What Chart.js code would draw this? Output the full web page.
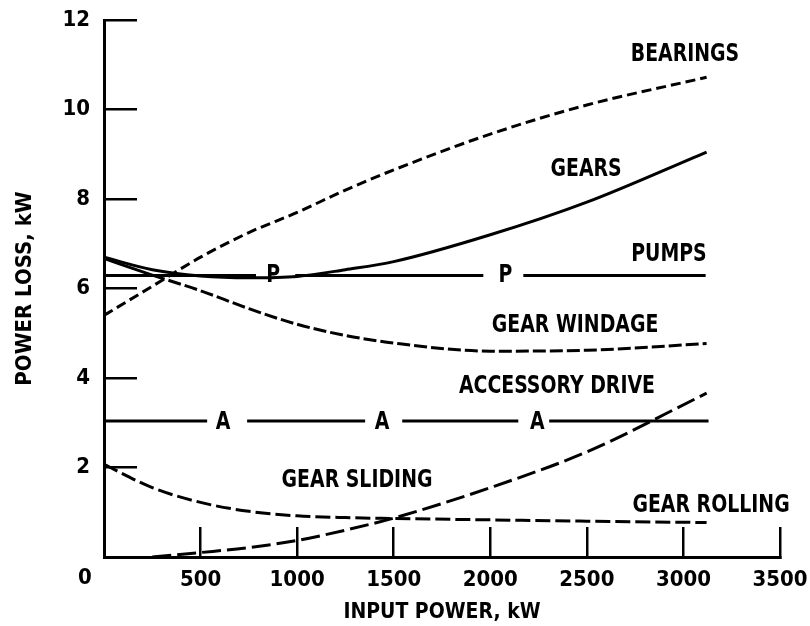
<!DOCTYPE html>
<html>
<head>
<meta charset="utf-8">
<script src="https://cdn.jsdelivr.net/npm/chart.js@4.4.1/dist/chart.umd.min.js"></script>
<style>
  body { margin: 0; background: #fff; }
</style>
</head>
<body>
<canvas id="chart" width="810" height="626"></canvas>
<script>
// input power, kW (common x grid for the curves)
const inputPower = [0, 250, 500, 750, 1000, 1250, 1500, 2000, 2500, 3120];

// power loss, kW
const bearings = [5.4, 6.05, 6.7, 7.25, 7.7, 8.2, 8.65, 9.45, 10.1, 10.72];
const gears    = [6.7, 6.42, 6.28, 6.24, 6.27, 6.42, 6.6, 7.2, 7.93, 9.05];
const windage  = [6.67, 6.3, 5.95, 5.55, 5.2, 4.95, 4.78, 4.6, 4.62, 4.77];
const rolling  = [2.07, 1.55, 1.22, 1.02, 0.92, 0.88, 0.86, 0.83, 0.8, 0.77];
const sliding  = [null, 0, 0.1, 0.21, 0.37, 0.6, 0.87, 1.55, 2.35, 3.66];

// constant losses, drawn in pieces with gaps for the P / A marks
const pumpsLevel = 6.29;
const pumpsPieces = [[0, 787], [990, 1964], [2171, 3115]];
const accessoryLevel = 3.04;
const accessoryPieces = [[0, 534], [741, 1352], [1544, 2145], [2305, 3130]];

// curve labels (text, input power, power loss)
const curveLabels = [
  ['BEARINGS', 3008, 11.22],
  ['GEARS', 2496, 8.65],
  ['PUMPS', 2925, 6.75],
  ['GEAR WINDAGE', 2439, 5.18],
  ['ACCESSORY DRIVE', 2345, 3.8],
  ['GEAR SLIDING', 1310, 1.72],
  ['GEAR ROLLING', 3143, 1.16],
  ['P', 876, 6.28],
  ['P', 2078, 6.28],
  ['A', 617, 3.0],
  ['A', 1440, 3.0],
  ['A', 2243, 3.0]
];

const xTicks = [0, 500, 1000, 1500, 2000, 2500, 3000, 3500];
const yTicks = [0, 2, 4, 6, 8, 10, 12];

const FONT = "'DejaVu Sans Condensed', 'Liberation Sans Narrow', sans-serif";

function pts(ys) {
    return inputPower.map((x, i) => ({ x: x, y: ys[i] }));
}

function pieces(list, level) {
    let out = [];
    list.forEach((p, i) => {
        if (i > 0) out.push({ x: (list[i - 1][1] + p[0]) / 2, y: null });
        out.push({ x: p[0], y: level });
        out.push({ x: p[1], y: level });
    });
    return out;
}

function line(data, dash, extra) {
    return Object.assign({
        data: data,
        borderColor: '#000',
        borderWidth: 3,
        borderDash: dash,
        borderCapStyle: 'butt',
        pointRadius: 0,
        fill: false,
        spanGaps: false,
        cubicInterpolationMode: 'monotone'
    }, extra || {});
}

// text squeezed sideways to look like the condensed lettering of the original
function squeezed(ctx, text, x, y, sx) {
    ctx.save();
    ctx.translate(x, y);
    ctx.scale(sx, 1);
    ctx.fillText(text, 0, 0);
    ctx.restore();
}

const labelPlugin = {
    id: 'labelPlugin',
    afterDatasetsDraw(chart) {
        const ctx = chart.ctx;
        const xs = chart.scales.x;
        const ys = chart.scales.y;
        ctx.save();
        ctx.fillStyle = '#000';
        ctx.font = 'bold 25px ' + FONT;
        ctx.textAlign = 'center';
        ctx.textBaseline = 'middle';
        curveLabels.forEach(l => {
            squeezed(ctx, l[0], xs.getPixelForValue(l[1]), ys.getPixelForValue(l[2]), 0.84);
        });
        // shared origin label
        ctx.font = 'bold 22px ' + FONT;
        ctx.textBaseline = 'top';
        ctx.fillText('0', xs.getPixelForValue(0) - 19, ys.getPixelForValue(0) + 10);
        ctx.restore();
    }
};

new Chart(document.getElementById('chart').getContext('2d'), {
    type: 'line',
    data: {
        datasets: [
            line(pts(bearings), [10, 5]),
            line(pts(gears), []),
            line(pieces(pumpsPieces, pumpsLevel), [], { cubicInterpolationMode: 'default', tension: 0 }),
            line(pts(windage), [], {
                segment: { borderDash: c => c.p0.parsed.x >= 250 ? [13, 4] : [] }
            }),
            line(pieces(accessoryPieces, accessoryLevel), [], { cubicInterpolationMode: 'default', tension: 0 }),
            line(pts(sliding), [19, 6]),
            line(pts(rolling), [15, 5])
        ]
    },
    options: {
        responsive: false,
        animation: false,
        layout: { padding: { left: 0, right: 30, top: 20, bottom: 0 } },
        plugins: {
            legend: { display: false },
            tooltip: { enabled: false }
        },
        scales: {
            x: {
                type: 'linear',
                min: 0,
                max: 3500,
                afterBuildTicks: s => { s.ticks = xTicks.map(v => ({ value: v })); },
                afterFit: s => { s.height = 69; s.paddingLeft = 0; s.paddingRight = 0; },
                ticks: {
                    color: '#000',
                    padding: 40,
                    maxRotation: 0,
                    font: { family: FONT, size: 22, weight: 'bold' },
                    callback: v => v === 0 ? '' : v
                },
                grid: {
                    drawOnChartArea: false,
                    drawTicks: true,
                    tickLength: -30,
                    color: '#000',
                    lineWidth: 2.5
                },
                border: { display: true, color: '#000', width: 3 },
                title: {
                    display: true,
                    text: 'INPUT POWER, kW',
                    color: '#000',
                    font: { family: FONT, size: 21, weight: 'bold', lineHeight: 1 },
                    padding: { top: 0, bottom: 3 }
                }
            },
            y: {
                min: 0,
                max: 12,
                afterBuildTicks: s => { s.ticks = yTicks.map(v => ({ value: v })); },
                afterFit: s => { s.width = 104; s.paddingTop = 0; s.paddingBottom = 0; },
                ticks: {
                    color: '#000',
                    padding: 47,
                    font: { family: FONT, size: 22, weight: 'bold' },
                    callback: v => v === 0 ? '' : v
                },
                grid: {
                    drawOnChartArea: false,
                    drawTicks: true,
                    tickLength: -33,
                    color: '#000',
                    lineWidth: 2.5
                },
                border: { display: true, color: '#000', width: 3 },
                title: {
                    display: true,
                    text: 'POWER LOSS, kW',
                    color: '#000',
                    font: { family: FONT, size: 22, weight: 'bold', lineHeight: 1 },
                    padding: { top: 14, bottom: 0 }
                }
            }
        }
    },
    plugins: [labelPlugin]
});
</script>
</body>
</html>
